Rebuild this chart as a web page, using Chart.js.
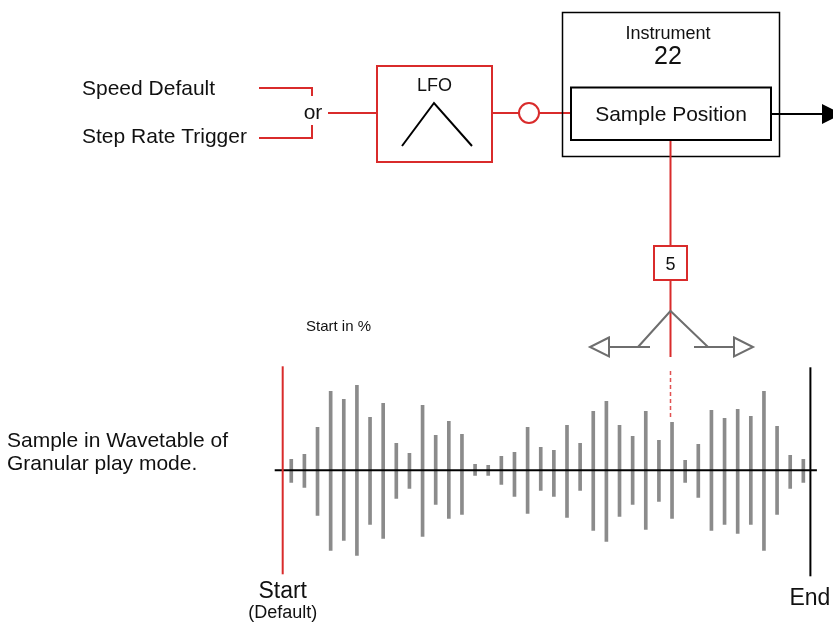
<!DOCTYPE html>
<html>
<head>
<meta charset="utf-8">
<script src="https://cdn.jsdelivr.net/npm/chart.js@4.4.1/dist/chart.umd.min.js"></script>
<style>
body { margin: 0; background: #fff; }
#wrap { width: 833px; height: 626px; }
</style>
</head>
<body>
<div id="wrap"><canvas id="wave" width="833" height="626"></canvas></div>
<script>
// grains of the sample, left to right
var grains = ['1', '2', '3', '4', '5', '6', '7', '8', '9', '10',
              '11', '12', '13', '14', '15', '16', '17', '18', '19', '20',
              '21', '22', '23', '24', '25', '26', '27', '28', '29', '30',
              '31', '32', '33', '34', '35', '36', '37', '38', '39', '40'];
// amplitude above / below the zero line
var grainUp = [11, 16, 43, 79, 71, 85, 53, 67, 27, 17, 65, 35, 49, 36, 6, 5, 14, 18, 43, 23,
               20, 45, 27, 59, 69, 45, 34, 59, 30, 48, 10, 26, 60, 52, 61, 54, 79, 44, 15, 11];
var grainDown = [12, 17, 45, 80, 70, 85, 54, 68, 28, 18, 66, 34, 48, 44, 5, 5, 14, 26, 43, 20,
                 26, 47, 20, 60, 71, 46, 34, 59, 31, 48, 12, 27, 60, 54, 63, 54, 80, 44, 18, 12];
var ampMin = -100;
var ampMax = 100;

var RED = '#d92b2b';
var GREY = '#6e6e6e';
var FONT = '"Liberation Sans", Arial, sans-serif';

function line(ctx, pts, color, w, dash) {
    ctx.save();
    ctx.strokeStyle = color;
    ctx.lineWidth = w;
    ctx.setLineDash(dash || []);
    ctx.beginPath();
    ctx.moveTo(pts[0][0], pts[0][1]);
    for (var i = 1; i < pts.length; i++) ctx.lineTo(pts[i][0], pts[i][1]);
    ctx.stroke();
    ctx.restore();
}

function box(ctx, x, y, w, h, color, lw) {
    ctx.save();
    ctx.strokeStyle = color;
    ctx.lineWidth = lw;
    ctx.strokeRect(x, y, w, h);
    ctx.restore();
}

function text(ctx, s, x, y, size, align) {
    ctx.save();
    ctx.fillStyle = '#111';
    ctx.font = size + 'px ' + FONT;
    ctx.textAlign = align || 'left';
    ctx.textBaseline = 'alphabetic';
    ctx.fillText(s, x, y);
    ctx.restore();
}

function triangle(ctx, pts, fill, stroke) {
    ctx.save();
    ctx.beginPath();
    ctx.moveTo(pts[0][0], pts[0][1]);
    ctx.lineTo(pts[1][0], pts[1][1]);
    ctx.lineTo(pts[2][0], pts[2][1]);
    ctx.closePath();
    if (fill) { ctx.fillStyle = fill; ctx.fill(); }
    if (stroke) { ctx.strokeStyle = stroke; ctx.lineWidth = 2; ctx.stroke(); }
    ctx.restore();
}

var diagram = {
    id: 'diagram',
    afterDatasetsDraw: function(chart) {
        var ctx = chart.ctx;
        var area = chart.chartArea;
        var y0 = chart.scales.y.getPixelForValue(0);

        // zero line, start and end markers
        line(ctx, [[area.left - 10, y0], [area.right + 7, y0]], '#000', 2);
        line(ctx, [[area.left - 2, area.top - 4], [area.left - 2, area.bottom + 4]], RED, 2);
        line(ctx, [[area.right + 0.5, area.top - 3], [area.right + 0.5, area.bottom + 6]], '#000', 2);

        text(ctx, 'Start', area.left - 2, 598, 23, 'center');
        text(ctx, '(Default)', area.left - 2, 618, 18, 'center');
        text(ctx, 'End', area.right, 605, 23, 'center');
        text(ctx, 'Start in %', 306, 331, 15);
        text(ctx, 'Sample in Wavetable of', 7, 447, 21);
        text(ctx, 'Granular play mode.', 7, 470, 21);

        // trigger inputs
        text(ctx, 'Speed Default', 82, 95, 21);
        text(ctx, 'Step Rate Trigger', 82, 143, 21);
        line(ctx, [[259, 88], [312, 88], [312, 96]], RED, 2);
        line(ctx, [[259, 138], [312, 138], [312, 125]], RED, 2);
        text(ctx, 'or', 313, 119, 21, 'center');
        line(ctx, [[328, 113], [377, 113]], RED, 2);

        // LFO
        box(ctx, 377, 66, 115, 96, RED, 2);
        text(ctx, 'LFO', 434.5, 90.5, 18, 'center');
        line(ctx, [[402, 146], [434, 103], [472, 146]], '#000', 2);
        line(ctx, [[492, 113], [519, 113]], RED, 2);
        ctx.save();
        ctx.strokeStyle = RED;
        ctx.lineWidth = 2;
        ctx.beginPath();
        ctx.arc(529, 113, 10, 0, Math.PI * 2);
        ctx.stroke();
        ctx.restore();
        line(ctx, [[539, 113], [571, 113]], RED, 2);

        // instrument
        box(ctx, 562.5, 12.5, 217, 144, '#000', 1.5);
        text(ctx, 'Instrument', 668, 39, 18, 'center');
        text(ctx, '22', 668, 64, 25, 'center');
        box(ctx, 571, 87.5, 200, 52.5, '#000', 2);
        text(ctx, 'Sample Position', 671, 121, 21, 'center');
        line(ctx, [[771, 114], [824, 114]], '#000', 2);
        triangle(ctx, [[822, 104], [842, 114], [822, 124]], '#000');

        // modulation amount
        line(ctx, [[670.5, 141], [670.5, 246]], RED, 2);
        box(ctx, 654, 246, 33, 34, RED, 2);
        text(ctx, '5', 670.5, 270, 18, 'center');
        line(ctx, [[670.5, 280], [670.5, 357]], RED, 2);
        line(ctx, [[638, 347], [670.5, 311], [708, 347]], GREY, 2);
        line(ctx, [[609, 347], [650, 347]], GREY, 2);
        line(ctx, [[694, 347], [734, 347]], GREY, 2);
        triangle(ctx, [[609, 337.5], [590, 347], [609, 356.5]], '#fff', GREY);
        triangle(ctx, [[734, 337.5], [753, 347], [734, 356.5]], '#fff', GREY);
        line(ctx, [[670.5, 371], [670.5, 420]], 'rgba(220, 50, 50, 0.85)', 1.5, [4, 3]);
    }
};

var ctx = document.getElementById('wave').getContext('2d');
var waveChart = new Chart(ctx, {
    type: 'bar',
    data: {
        labels: grains,
        datasets: [{
            label: 'Grain amplitude',
            data: grainUp.map(function(u, i) { return [-grainDown[i], u]; }),
            backgroundColor: '#8b8b8b',
            borderWidth: 0,
            barThickness: 3
        }]
    },
    options: {
        responsive: false,
        animation: false,
        layout: {
            padding: { left: 284.7, right: 23.1, top: 370.3, bottom: 55.7 }
        },
        plugins: {
            legend: { display: false },
            tooltip: { enabled: false }
        },
        scales: {
            x: { display: false },
            y: { display: false, min: ampMin, max: ampMax }
        }
    },
    plugins: [diagram]
});
</script>
</body>
</html>
